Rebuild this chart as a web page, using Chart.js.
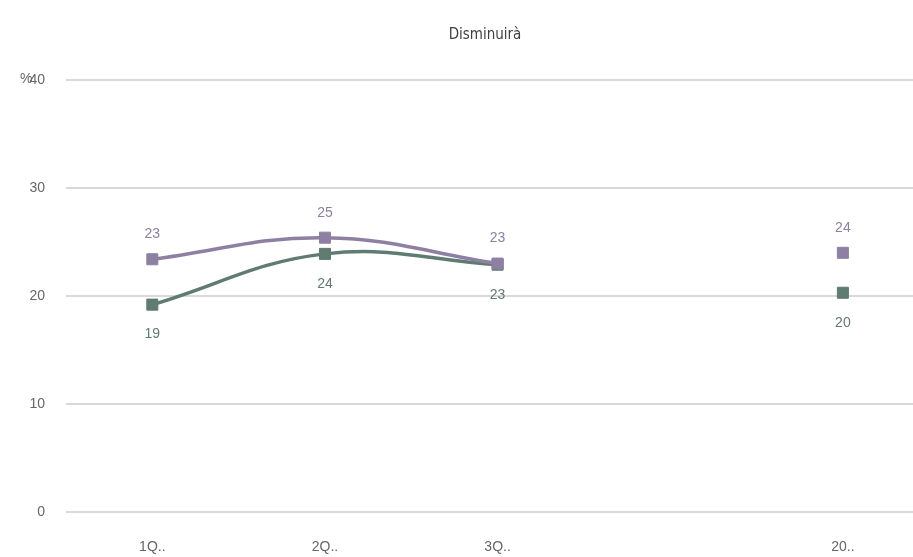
<!DOCTYPE html>
<html>
<head>
<meta charset="utf-8">
<script src="https://cdn.jsdelivr.net/npm/chart.js@4/dist/chart.umd.min.js"></script>
<style>
html,body{margin:0;padding:0;background:#fff;overflow:hidden;}
#wrap{position:relative;width:938px;height:557px;}
</style>
</head>
<body>
<div id="wrap"><canvas id="c"></canvas></div>
<script>
const chartTitle = 'Disminuirà';
const unitLabel = '%';
const categories = ['1Q..', '2Q..', '3Q..', '', '20..'];
const seriesPurple = [23.4, 25.4, 23.0, null, 24.0];
const seriesGreen = [19.2, 23.9, 22.9, null, 20.3];
const purpleColor = '#8d80a2';
const greenColor = '#5f7b72';
const yTicks = [0, 10, 20, 30, 40];

const labelPlugin = {
  id: 'valueLabels',
  afterDatasetsDraw(chart) {
    const ctx = chart.ctx;
    ctx.save();
    ctx.font = '14px "Liberation Sans", Arial, sans-serif';
    ctx.textAlign = 'center';
    ctx.textBaseline = 'middle';
    chart.data.datasets.forEach((ds, di) => {
      const meta = chart.getDatasetMeta(di);
      meta.data.forEach((pt, i) => {
        const v = ds.data[i];
        if (v === null || v === undefined) return;
        ctx.fillStyle = ds.borderColor;
        const off = ds.labelAbove ? -25 : 30;
        ctx.fillText(String(Math.round(v)), pt.x, pt.y + off);
      });
    });
    ctx.restore();
  },
  afterDraw(chart) {
    const ctx = chart.ctx;
    ctx.save();
    ctx.fillStyle = '#404040';
    ctx.font = '15px "DejaVu Sans Condensed", "DejaVu Sans", sans-serif';
    ctx.textAlign = 'center';
    ctx.textBaseline = 'middle';
    ctx.fillText(chartTitle, 485, 35);
    ctx.fillStyle = '#666666';
    ctx.font = '14px "Liberation Sans", Arial, sans-serif';
    ctx.textAlign = 'left';
    ctx.fillText(unitLabel, 20, chart.scales.y.top - 1);
    ctx.restore();
  }
};

new Chart(document.getElementById('c'), {
  type: 'line',
  data: {
    labels: categories,
    datasets: [
      {
        data: seriesPurple,
        borderColor: purpleColor,
        backgroundColor: purpleColor,
        borderWidth: 3.5,
        pointStyle: 'rect',
        pointRadius: 7.8,
        pointHoverRadius: 7.8,
        pointBorderWidth: 1,
        tension: 0.4,
        spanGaps: false,
        labelAbove: true
      },
      {
        data: seriesGreen,
        borderColor: greenColor,
        backgroundColor: greenColor,
        borderWidth: 3.5,
        pointStyle: 'rect',
        pointRadius: 7.8,
        pointHoverRadius: 7.8,
        pointBorderWidth: 1,
        tension: 0.4,
        spanGaps: false,
        labelAbove: false
      }
    ]
  },
  options: {
    responsive: true,
    maintainAspectRatio: false,
    animation: false,
    layout: { padding: { top: 80, right: 2, bottom: 0, left: 0 } },
    plugins: {
      legend: { display: false },
      title: { display: false },
      tooltip: { enabled: false }
    },
    scales: {
      x: {
        offset: true,
        grid: { display: false, drawTicks: false },
        border: { display: false },
        ticks: {
          color: '#666666',
          font: { family: '"Liberation Sans", Arial, sans-serif', size: 14 },
          padding: 27,
          maxRotation: 0,
          autoSkip: false
        },
        afterFit(scale) { scale.height = 45; }
      },
      y: {
        min: 0,
        max: 40,
        afterBuildTicks(scale) { scale.ticks = yTicks.map(v => ({ value: v })); },
        grid: { color: '#d9d9d9', lineWidth: 2, drawTicks: false },
        border: { display: false },
        ticks: {
          color: '#666666',
          font: { family: '"Liberation Sans", Arial, sans-serif', size: 14 },
          padding: 21
        },
        afterFit(scale) { scale.width = 66; }
      }
    }
  },
  plugins: [labelPlugin]
});
</script>
</body>
</html>
